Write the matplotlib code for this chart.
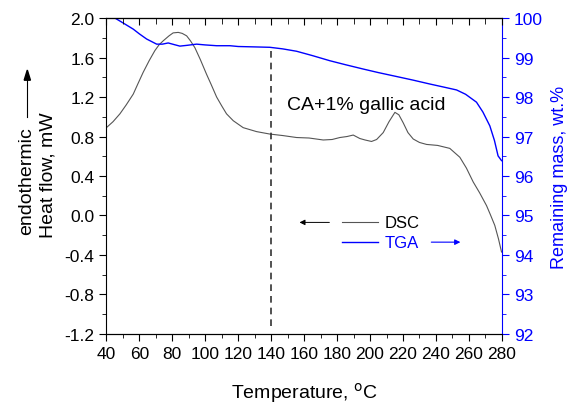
import matplotlib.pyplot as plt
from matplotlib.ticker import MultipleLocator, FormatStrFormatter

plt.rcParams['font.family'] = ['Liberation Sans', 'DejaVu Sans']

# DSC heat flow (mW) vs temperature (C)
dsc_t = [40, 44, 48.2, 52, 56.3, 59, 62.3, 66, 69.4, 72, 74.5, 78, 80.5, 83.6,
         86, 88.7, 91, 93.7, 97, 100.8, 103.5, 106.9, 110, 112.9, 117, 123,
         131.1, 139.2, 147, 155.4, 163, 171.6, 177, 181.7, 186, 189.8, 193.8,
         197, 200.9, 204, 208, 211.5, 215.1, 217.5, 220.1, 223, 226.2, 230,
         234.3, 241, 248.4, 254.5, 258.5, 262.6, 266.5, 270.7, 273, 275.7, 278,
         279.8]
dsc_hf = [0.89, 0.95, 1.03, 1.12, 1.23, 1.33, 1.45, 1.57, 1.67, 1.73, 1.77, 1.82,
          1.85, 1.855, 1.845, 1.82, 1.77, 1.70, 1.58, 1.43, 1.33, 1.20, 1.11,
          1.03, 0.96, 0.89, 0.85, 0.825, 0.81, 0.79, 0.785, 0.765, 0.77, 0.79,
          0.80, 0.815, 0.78, 0.765, 0.75, 0.77, 0.84, 0.95, 1.045, 1.02, 0.94,
          0.84, 0.775, 0.74, 0.72, 0.71, 0.68, 0.59, 0.48, 0.34, 0.23, 0.10,
          0.01, -0.10, -0.24, -0.37]

# TGA remaining mass (wt.%) vs temperature (C)
tga_t = [40, 45.2, 50, 56.3, 60, 64.4, 70.5, 74, 77.5, 81, 84.6, 89, 94.7, 100,
         106.9, 115, 120, 130, 139.2, 147, 155.4, 165, 175.6, 185, 195.8, 205,
         216.1, 226, 236.3, 245, 252.5, 258, 264.6, 268.5, 272.7, 275.5, 277.7,
         279.8]
tga_m = [100.12, 100.0, 99.88, 99.72, 99.6, 99.47, 99.34, 99.34, 99.37, 99.33,
         99.29, 99.31, 99.34, 99.32, 99.30, 99.30, 99.28, 99.27, 99.26, 99.22,
         99.16, 99.05, 98.92, 98.82, 98.71, 98.62, 98.52, 98.43, 98.33, 98.25,
         98.18, 98.07, 97.87, 97.62, 97.27, 96.9, 96.51, 96.39]

fig = plt.figure(figsize=(5.69, 4.06), dpi=100)
ax = fig.add_axes([0.187, 0.175, 0.695, 0.778])
ax2 = ax.twinx()

ax.plot(dsc_t, dsc_hf, color='#555555', lw=0.8)
ax2.plot(tga_t, tga_m, color='#0000ff', lw=1.0)

# dashed marker at 140 C, from the TGA curve down to the bottom
ax.plot([140, 140], [-1.12, 1.71], color='#333333', lw=1.2, ls=(0, (4, 3)))

ax.set_xlim(40, 280)
ax.set_ylim(-1.2, 2.0)
ax2.set_ylim(92, 100)

ax.xaxis.set_major_locator(MultipleLocator(20))
ax.xaxis.set_minor_locator(MultipleLocator(10))
ax.yaxis.set_major_locator(MultipleLocator(0.4))
ax.yaxis.set_minor_locator(MultipleLocator(0.2))
ax.yaxis.set_major_formatter(FormatStrFormatter('%.1f'))
ax2.yaxis.set_major_locator(MultipleLocator(1))
ax2.yaxis.set_minor_locator(MultipleLocator(0.5))

ax.tick_params(axis='x', which='both', direction='out', labelsize=12.5)
ax.tick_params(axis='x', which='major', length=5)
ax.tick_params(axis='x', which='minor', length=3)
ax.tick_params(axis='y', which='major', direction='out', length=5, labelsize=12.5)
ax.tick_params(axis='y', which='minor', direction='out', length=3)
ax2.tick_params(axis='y', which='major', direction='out', length=5, labelsize=12.5,
                colors='#0000ff')
ax2.tick_params(axis='y', which='minor', direction='out', length=3, colors='#0000ff')
ax2.spines['right'].set_color('#0000ff')
ax2.spines['left'].set_visible(False)
ax.spines['right'].set_visible(False)

# top ticks point into the plot
top = ax.twiny()
top.set_xlim(ax.get_xlim())
top.xaxis.set_major_locator(MultipleLocator(20))
top.xaxis.set_minor_locator(MultipleLocator(10))
top.tick_params(axis='x', which='both', direction='in', labeltop=False)
top.tick_params(axis='x', which='major', length=5)
top.tick_params(axis='x', which='minor', length=4)
for sp in ['left', 'right', 'bottom']:
    top.spines[sp].set_visible(False)

ax.set_xlabel('Temperature, $^{\\mathrm{o}}$C', fontsize=14, labelpad=14)
ax2.set_ylabel('Remaining mass, wt.%', fontsize=13, color='#0000ff', labelpad=6)

fig.text(0.084, 0.568, 'Heat flow, mW', rotation=90, fontsize=14,
         ha='center', va='center')
fig.text(0.046, 0.555, 'endothermic', rotation=90, fontsize=14,
         ha='center', va='center')
fig.add_artist(plt.Line2D([0.048, 0.048], [0.71, 0.82], color='black', lw=0.8,
                          transform=fig.transFigure))
fig.patches.append(plt.Polygon([[0.0425, 0.80], [0.0535, 0.80], [0.048, 0.825]],
                               closed=True, color='black',
                               transform=fig.transFigure))

ax.text(149.5, 1.12, 'CA+1% gallic acid', fontsize=14, va='center')

# legend drawn by hand with direction arrows
ax.plot([183, 205], [-0.07, -0.07], color='#555555', lw=0.8)
ax.text(209, -0.07, 'DSC', fontsize=12, va='center')
ax.annotate('', xy=(155.5, -0.07), xytext=(177, -0.07),
            arrowprops=dict(arrowstyle='-|>', color='black', lw=0.7,
                            mutation_scale=8))
ax.plot([183, 205], [-0.27, -0.27], color='#0000ff', lw=1.0)
ax.text(209, -0.27, 'TGA', fontsize=12, va='center', color='#0000ff')
ax.annotate('', xy=(256.5, -0.27), xytext=(235.5, -0.27),
            arrowprops=dict(arrowstyle='-|>', color='#0000ff', lw=0.8,
                            mutation_scale=8))

fig.savefig('out.png', dpi=100)
